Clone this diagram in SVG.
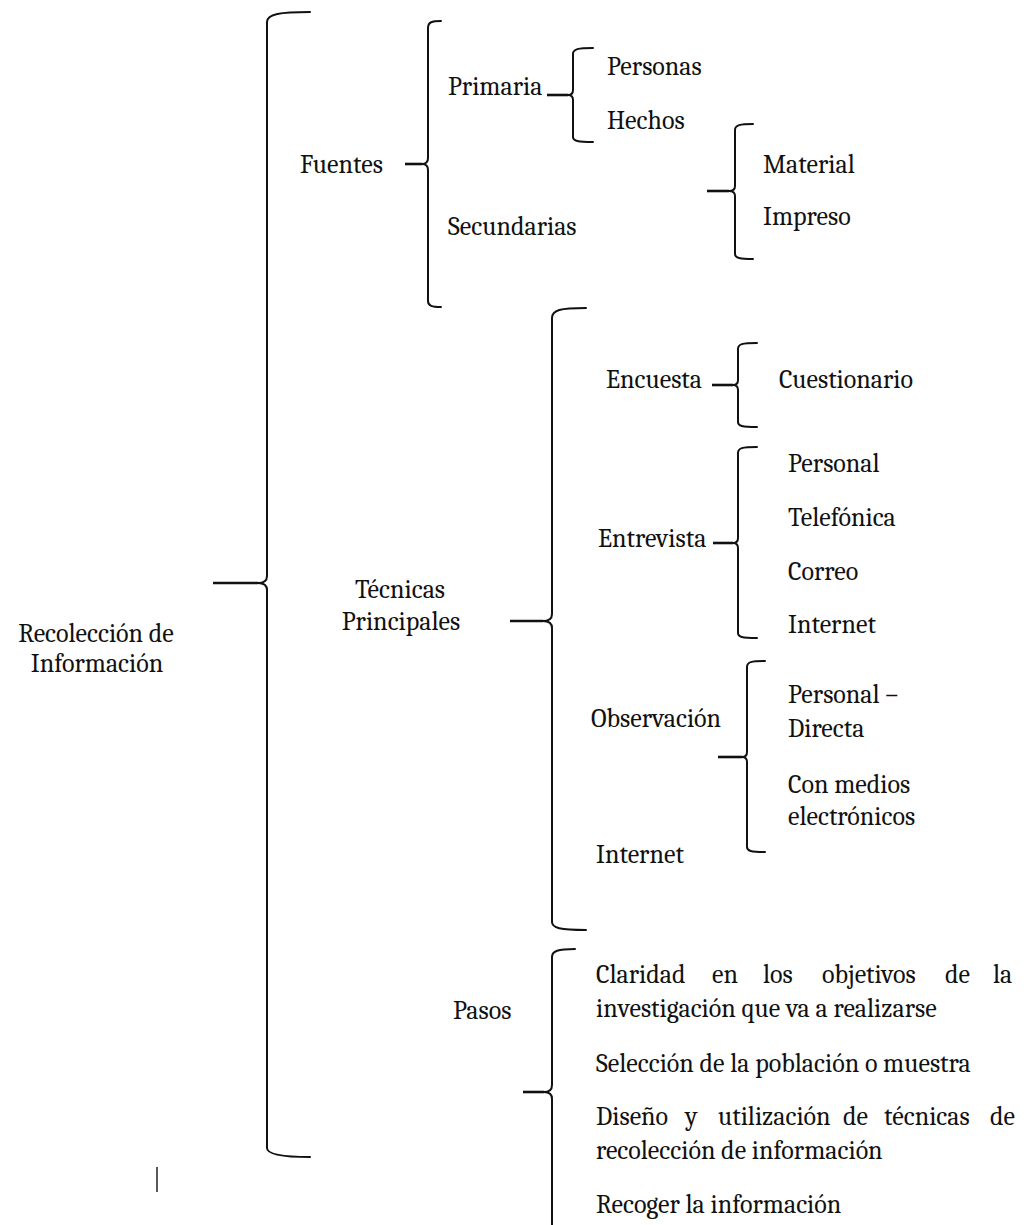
<svg xmlns="http://www.w3.org/2000/svg" width="1034" height="1225" viewBox="0 0 1034 1225">
  <style>
    .brace { fill: none; stroke: #111; stroke-width: 2; stroke-linejoin: round; stroke-linecap: round; }
    .link { fill: none; stroke: #111; stroke-width: 2.6; stroke-linecap: butt; }
  </style>
  <rect width="1034" height="1225" fill="#fff"/>

  <!-- brackets and their short stems -->
  <g id="connectors">
    <!-- root bracket -->
    <path class="brace" d="M310,12 C280,12 267,14 267,22 L267,576 Q267,583 258,583 Q267,583 267,590 L267,1148 C267,1154 280,1157 310,1157"/>
    <path class="link" d="M213,583 H258"/>
    <!-- Fuentes -->
    <path class="brace" d="M441,21 C432,21 428,22 428,28 L428,158 Q428,164 422,164 Q428,164 428,170 L428,301 C428,306 432,307 441,307"/>
    <path class="link" d="M405,164 H422"/>
    <!-- Primaria -->
    <path class="brace" d="M593,48 C578,48 573,49 573,54 L573,90 Q573,95 568,95 Q573,95 573,100 L573,137 C573,141 578,142 593,142"/>
    <path class="link" d="M547,95 H568"/>
    <!-- Secundarias -->
    <path class="brace" d="M753,124 C740,124 735,125 735,130 L735,186 Q735,191 729,191 Q735,191 735,196 L735,254 C735,258 740,259 753,259"/>
    <path class="link" d="M707,191 H729"/>
    <!-- Técnicas Principales -->
    <path class="brace" d="M586,308 C560,308 552,310 552,318 L552,614 Q552,621 543,621 Q552,621 552,628 L552,922 C552,928 560,930 586,930"/>
    <path class="link" d="M510,621 H543"/>
    <!-- Encuesta -->
    <path class="brace" d="M757,343 C742,343 738,344 738,349 L738,380 Q738,385 733,385 Q738,385 738,390 L738,422 C738,426 742,427 757,427"/>
    <path class="link" d="M712,385 H733"/>
    <!-- Entrevista -->
    <path class="brace" d="M757,447 C742,447 738,448 738,453 L738,538 Q738,543 733,543 Q738,543 738,548 L738,633 C738,637 742,638 757,638"/>
    <path class="link" d="M713,543 H733"/>
    <!-- Observación -->
    <path class="brace" d="M765,661 C751,661 747,662 747,667 L747,752 Q747,757 742,757 Q747,757 747,762 L747,847 C747,851 751,852 765,852"/>
    <path class="link" d="M718,757 H742"/>
    <!-- Pasos -->
    <path class="brace" d="M575,949 C558,949 552,951 552,957 L552,1085 Q552,1092 544,1092 Q552,1092 552,1099 L552,1230"/>
    <path class="link" d="M523,1092 H544"/>
    <!-- stray mark -->
    <path d="M157,1167 V1192" stroke="#222" stroke-width="1.5"/>
  </g>

  <g font-family="Caladea, Liberation Serif, serif" font-size="26" fill="#111">
    <g id="root">
      <text text-anchor="middle" x="96" y="642">Recolección de</text>
      <text text-anchor="middle" x="97" y="672">Información</text>
    </g>

    <g id="fuentes"><text x="300" y="173">Fuentes</text></g>
    <g id="primaria"><text x="448" y="95">Primaria</text></g>
    <g id="personas"><text x="607" y="75">Personas</text></g>
    <g id="hechos"><text x="607" y="129">Hechos</text></g>
    <g id="secundarias"><text x="448" y="235">Secundarias</text></g>
    <g id="material"><text x="763" y="173">Material</text></g>
    <g id="impreso"><text x="763" y="225">Impreso</text></g>

    <g id="tecnicas">
      <text text-anchor="middle" x="400" y="598">Técnicas</text>
      <text text-anchor="middle" x="401" y="630">Principales</text>
    </g>
    <g id="encuesta"><text x="606" y="388">Encuesta</text></g>
    <g id="cuestionario"><text x="779" y="388">Cuestionario</text></g>
    <g id="entrevista"><text x="598" y="547">Entrevista</text></g>
    <g id="ent-personal"><text x="788" y="472">Personal</text></g>
    <g id="ent-telefonica"><text x="788" y="526">Telefónica</text></g>
    <g id="ent-correo"><text x="788" y="580">Correo</text></g>
    <g id="ent-internet"><text x="788" y="633">Internet</text></g>
    <g id="observacion"><text x="591" y="727">Observación</text></g>
    <g id="obs-personal">
      <text x="788" y="703">Personal –</text>
      <text x="788" y="737">Directa</text>
    </g>
    <g id="obs-medios">
      <text x="788" y="793">Con medios</text>
      <text x="788" y="825">electrónicos</text>
    </g>
    <g id="internet"><text x="596" y="863">Internet</text></g>

    <g id="pasos"><text x="453" y="1019">Pasos</text></g>
    <g id="paso-1">
      <text y="983"><tspan x="596">Claridad</tspan><tspan x="712">en</tspan><tspan x="763">los</tspan><tspan x="822">objetivos</tspan><tspan x="945">de</tspan><tspan x="993">la</tspan></text>
      <text x="596" y="1017">investigación que va a realizarse</text>
    </g>
    <g id="paso-2"><text x="596" y="1072">Selección de la población o muestra</text></g>
    <g id="paso-3">
      <text y="1125"><tspan x="596">Diseño</tspan><tspan x="685">y</tspan><tspan x="718">utilización</tspan><tspan x="843">de</tspan><tspan x="884">técnicas</tspan><tspan x="990">de</tspan></text>
      <text x="596" y="1159">recolección de información</text>
    </g>
    <g id="paso-4"><text x="596" y="1213">Recoger la información</text></g>
  </g>
</svg>
